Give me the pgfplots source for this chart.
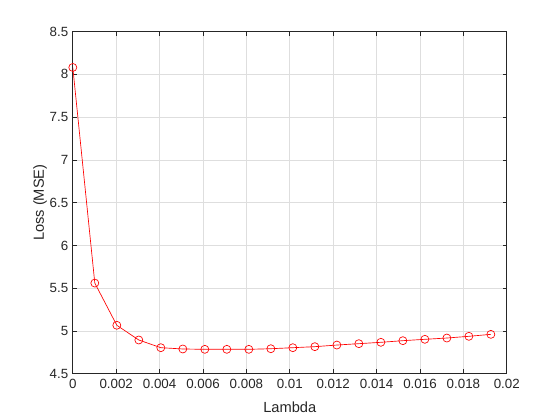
\documentclass[border=0pt]{standalone}
\usepackage{pgfplots}
\pgfplotsset{compat=1.18}
\usepackage{fontspec}
\setmainfont{Liberation Sans}
\definecolor{axgray}{rgb}{0.15,0.15,0.15}
\definecolor{gridgray}{rgb}{0.87,0.87,0.87}
\begin{document}
\begin{tikzpicture}[x=1pt,y=1pt]
\useasboundingbox (0,0) rectangle (560,420);
\begin{axis}[
  at={(72.8pt,46.2pt)}, anchor=south west,
  scale only axis, width=434pt, height=342.3pt,
  xmin=0, xmax=0.02, ymin=4.5, ymax=8.5,
  xtick={0,0.002,0.004,0.006,0.008,0.01,0.012,0.014,0.016,0.018,0.02},
  xticklabels={0,0.002,0.004,0.006,0.008,0.01,0.012,0.014,0.016,0.018,0.02},
  ytick={4.5,5,5.5,6,6.5,7,7.5,8,8.5},
  yticklabels={4.5,5,5.5,6,6.5,7,7.5,8,8.5},
  scaled x ticks=false,
  grid=major,
  major grid style={gridgray, line width=0.67pt},
  axis line style={axgray, line width=0.67pt},
  tick style={axgray, line width=0.67pt},
  tick align=inside,
  major tick length=4.3pt,
  xtick pos=both, ytick pos=both,
  tick label style={font=\fontsize{13.33}{16}\selectfont, text=axgray},
  xticklabel style={yshift=-2pt},
  yticklabel style={xshift=-1pt},
  xlabel={Lambda}, ylabel={Loss (MSE)},
  label style={font=\fontsize{14.67}{17}\selectfont, text=axgray},
  xlabel style={at={(axis description cs:0.5,0)}, anchor=base, yshift=-38.5pt},
  ylabel style={at={(axis description cs:0,0.5)}, anchor=base, rotate=0, yshift=28.8pt},
]
\addplot[red, line width=0.67pt, mark=o, mark size=4pt, mark options={solid, line width=0.67pt}] table {
x y
0        8.08
0.001014 5.56
0.002028 5.067
0.003042 4.895
0.004056 4.805
0.005070 4.790
0.006084 4.786
0.007098 4.786
0.008112 4.786
0.009126 4.793
0.010140 4.805
0.011154 4.817
0.012168 4.836
0.013182 4.852
0.014196 4.868
0.015210 4.887
0.016224 4.903
0.017238 4.918
0.018252 4.938
0.019266 4.961
};
\end{axis}
\end{tikzpicture}
\end{document}
